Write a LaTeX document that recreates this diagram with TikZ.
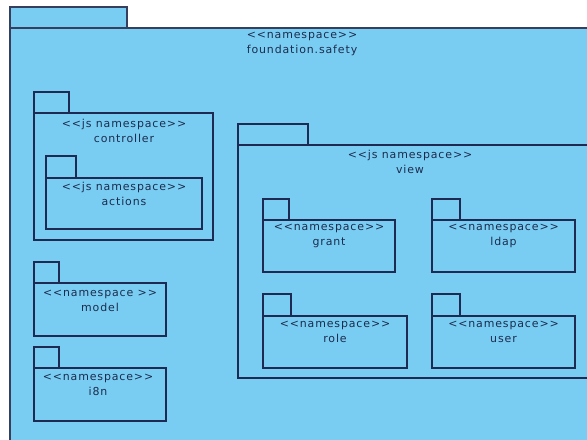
\documentclass[tikz,border=0pt]{standalone}
\usepackage{fontspec}
\setmainfont{DejaVu Sans}[LetterSpace=8, Ligatures=TeXOff]
\definecolor{pkgfill}{RGB}{122,205,242}
\definecolor{pkgline}{RGB}{30,42,82}
\definecolor{pkgtext}{RGB}{28,44,78}
\begin{document}
\begin{tikzpicture}[x=1bp,y=-1bp,
  pkg/.style={draw=pkgline, fill=pkgfill, line width=1.1bp},
  outerpkg/.style={draw=pkgline!75!gray, fill=pkgfill, line width=1.3bp},
  pkglabel/.style={text=pkgtext, font=\fontsize{11}{15}\selectfont, align=center, inner sep=0pt}]
\useasboundingbox (0,0) rectangle (587,440);
\fill[white] (0,0) rectangle (587,440);
\clip (0,0) rectangle (587,440);

% outer namespace foundation.safety (runs past the right and bottom edges)
\draw[outerpkg] (10,7) rectangle (127,28);
\draw[outerpkg] (10,28) rectangle (600,460);
\node[pkglabel] (safety) at (302,44) {<<namespace>>\\foundation.safety};

% controller with nested actions
\draw[pkg] (34,92) rectangle (69,113);
\draw[pkg] (34,113) rectangle (213,240);
\node[pkglabel] (controller) at (124,130.5) {<<js namespace>>\\controller};
\draw[pkg] (46,156) rectangle (76,178);
\draw[pkg] (46,178) rectangle (202,229);
\node[pkglabel] (actions) at (124,194) {<<js namespace>>\\actions};

% model
\draw[pkg] (34,262) rectangle (59,283);
\draw[pkg] (34,283) rectangle (166,336);
\node[pkglabel] (model) at (100,300.5) {<<namespace >>\\model};

% i8n
\draw[pkg] (34,347) rectangle (59,368);
\draw[pkg] (34,368) rectangle (166,421);
\node[pkglabel] (i8n) at (98,384.5) {<<namespace>>\\i8n};

% view (runs past the right edge)
\draw[pkg] (238,124) rectangle (308,145);
\draw[pkg] (238,145) rectangle (600,378);
\node[pkglabel] (view) at (410,162) {<<js namespace>>\\view};

% grant
\draw[pkg] (263,199) rectangle (289,220);
\draw[pkg] (263,220) rectangle (395,272);
\node[pkglabel] (grant) at (329,236) {<<namespace>>\\grant};

% ldap
\draw[pkg] (432,199) rectangle (460,220);
\draw[pkg] (432,220) rectangle (575,272);
\node[pkglabel] (ldap) at (503.5,236) {<<namespace>>\\ldap};

% role
\draw[pkg] (263,294) rectangle (291,316);
\draw[pkg] (263,316) rectangle (407,368);
\node[pkglabel] (role) at (335,332) {<<namespace>>\\role};

% user
\draw[pkg] (432,294) rectangle (460,316);
\draw[pkg] (432,316) rectangle (575,368);
\node[pkglabel] (user) at (503.5,332) {<<namespace>>\\user};
\end{tikzpicture}
\end{document}
